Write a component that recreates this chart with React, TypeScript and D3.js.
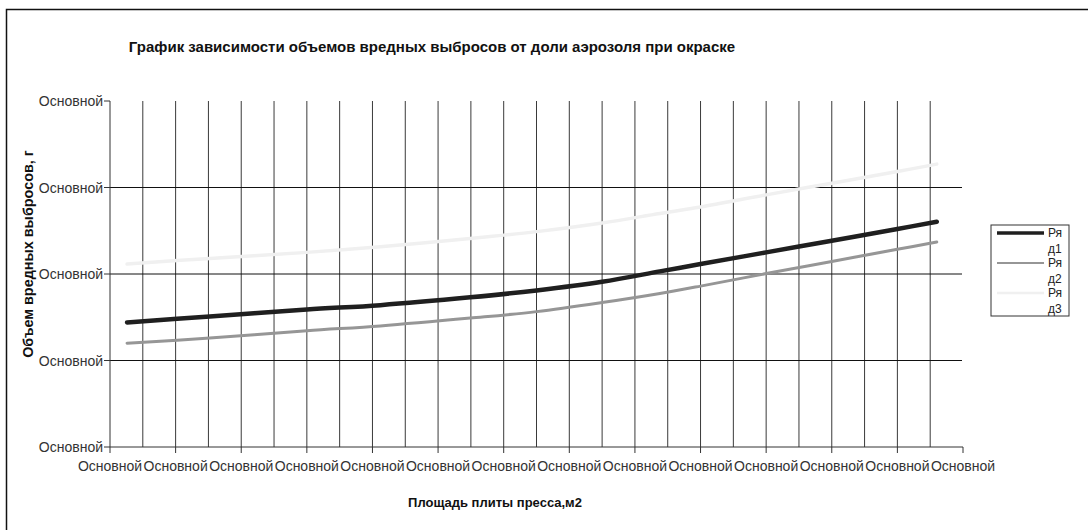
import React from "react";
import * as d3 from "d3";

// Plate area positions (axis units) and emission volumes per series
const plateArea = [0.26, 1.52, 3.0, 4.12, 5.49, 6.5, 7.5, 8.38, 9.0, 10.0, 11.0, 12.0, 12.6];
const series1 = [1.44, 1.51, 1.59, 1.64, 1.73, 1.81, 1.91, 2.03, 2.115, 2.25, 2.385, 2.52, 2.605];
const series2 = [1.2, 1.26, 1.345, 1.4, 1.49, 1.565, 1.67, 1.775, 1.86, 2.005, 2.145, 2.285, 2.37];
const series3 = [2.115, 2.18, 2.25, 2.315, 2.41, 2.49, 2.59, 2.7, 2.775, 2.915, 3.05, 3.185, 3.27];

const seriesNames = ["Ряд1", "Ряд2", "Ряд3"];
const xTicks = d3.range(0, 14, 1);
const xMinorGrid = d3.range(0.5, 13, 0.5);
const yTicks = [0, 1, 2, 3, 4];
const tickLabel = "Основной";

const title = "График зависимости объемов вредных выбросов от доли аэрозоля при окраске";
const yTitle = "Объем вредных выбросов,  г";
const xTitle = "Площадь  плиты  пресса,м2";

const W = 1088;
const H = 530;
const plot = { left: 110, right: 963, top: 101, bottom: 447 };
const font = "'Liberation Sans', Arial, sans-serif";

const styles = [
  { color: "#1f1f1f", width: 4.5 },
  { color: "#969696", width: 3 },
  { color: "#f0f0f0", width: 3.5 },
];

export default function App() {
  const x = d3.scaleLinear().domain([0, 13]).range([plot.left, plot.right]);
  const y = d3.scaleLinear().domain([0, 4]).range([plot.bottom, plot.top]);
  const line = d3
    .line<[number, number]>()
    .x((d) => x(d[0]))
    .y((d) => y(d[1]))
    .curve(d3.curveCatmullRom.alpha(0.5));
  const data = [series1, series2, series3].map((s) =>
    s.map((v, i) => [plateArea[i], v] as [number, number])
  );

  const legendX = 991;
  const legendY = 225;

  return (
    <svg
      width={W}
      height={H}
      style={{ position: "absolute", left: 0, top: 0, background: "#fff" }}
      fontFamily={font}
    >
      <rect x={6.5} y={9.5} width={W + 10} height={H + 10} fill="#fff" stroke="#111" strokeWidth={1.5} />

      <text x={432} y={52} textAnchor="middle" fontSize={15} fontWeight="bold" fill="#111">
        {title}
      </text>

      {/* vertical gridlines */}
      {xMinorGrid.map((t) => (
        <line key={"vg" + t} x1={x(t)} x2={x(t)} y1={plot.top} y2={plot.bottom} stroke="#3a3a3a" strokeWidth={1} />
      ))}
      {/* horizontal gridlines */}
      {yTicks.slice(1, 4).map((t) => (
        <line key={"hg" + t} x1={plot.left} x2={plot.right - 1} y1={y(t)} y2={y(t)} stroke="#111" strokeWidth={1} />
      ))}

      {/* axes */}
      <line x1={plot.left} x2={plot.left} y1={plot.top} y2={plot.bottom} stroke="#333" />
      <line x1={plot.left} x2={plot.right} y1={plot.bottom} y2={plot.bottom} stroke="#333" />
      {yTicks.map((t) => (
        <g key={"yt" + t}>
          <line x1={plot.left - 6} x2={plot.left} y1={y(t)} y2={y(t)} stroke="#333" />
          <text x={plot.left - 7} y={y(t) + 5} textAnchor="end" fontSize={14} fill="#333">
            {tickLabel}
          </text>
        </g>
      ))}
      {xTicks.map((t) => (
        <g key={"xt" + t}>
          <line x1={x(t)} x2={x(t)} y1={plot.bottom} y2={plot.bottom + 6} stroke="#333" />
          <text x={x(t)} y={plot.bottom + 24} textAnchor="middle" fontSize={14} fill="#333">
            {tickLabel}
          </text>
        </g>
      ))}

      {/* series */}
      {data.map((d, i) => (
        <path
          key={"s" + i}
          d={line(d) || ""}
          fill="none"
          stroke={styles[i].color}
          strokeWidth={styles[i].width}
          strokeLinecap="round"
        />
      ))}

      {/* axis titles */}
      <text
        transform={`translate(33,254) rotate(-90)`}
        textAnchor="middle"
        fontSize={14.4}
        fontWeight="bold"
        fill="#111"
      >
        {yTitle}
      </text>
      <text x={495} y={507} textAnchor="middle" fontSize={13} fontWeight="bold" fill="#111">
        {xTitle}
      </text>

      {/* legend */}
      <rect x={legendX} y={legendY} width={78} height={91} fill="#fff" stroke="#333" strokeWidth={1} />
      {seriesNames.map((n, i) => {
        const cy = legendY + 8 + i * 30;
        return (
          <g key={"lg" + i}>
            <line x1={997} x2={1044} y1={cy} y2={cy} stroke={styles[i].color} strokeWidth={styles[i].width - 1} />
            <text x={1048} y={cy + 4} fontSize={12} fill="#222">
              {n.slice(0, 2)}
            </text>
            <text x={1048} y={cy + 20} fontSize={12} fill="#222">
              {n.slice(2)}
            </text>
          </g>
        );
      })}
    </svg>
  );
}
